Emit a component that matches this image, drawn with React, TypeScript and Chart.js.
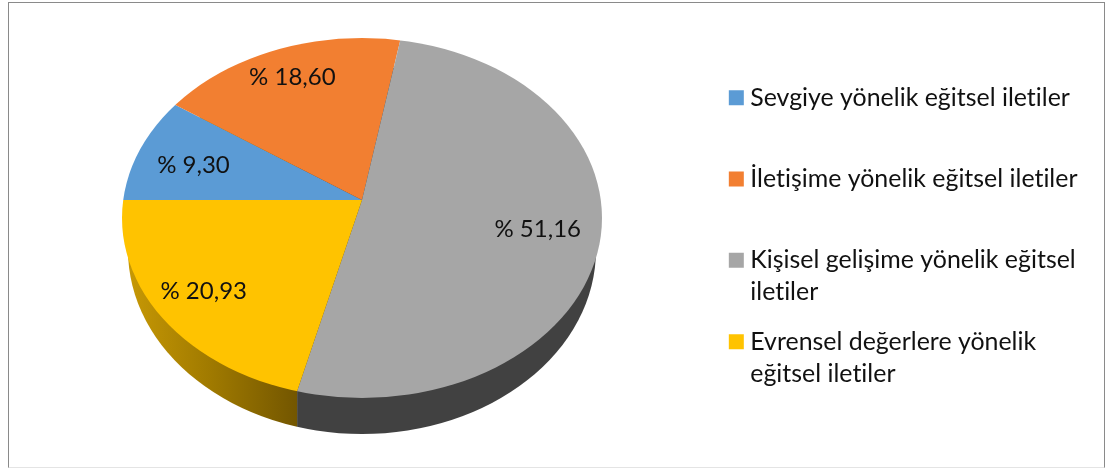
import React, { useEffect, useRef } from "react";
import { Chart, registerables } from "chart.js";

Chart.register(...registerables);

const categories: string[][] = [
  ["Sevgiye yönelik eğitsel iletiler", ""],
  ["İletişime yönelik eğitsel iletiler", ""],
  ["Kişisel gelişime yönelik eğitsel", "iletiler"],
  ["Evrensel değerlere yönelik", "eğitsel iletiler"],
];
const values = [9.3, 18.6, 51.16, 20.93];
const colors = ["#5B9BD5", "#F27F31", "#A6A6A6", "#FFC300"];
const FONT = "Lato, Carlito, 'Noto Sans', sans-serif";
const TEXT = "#111111";

// Perspective view of the disc
const apex = { x: 362, y: 200 };
const tilt = 0.77;
const rimTop = { x: 362, y: 218, rx: 240, ry: 180 };
const rimBottom = { x: 362, y: 250, rx: 234, ry: 184 };
const viewRadius = 300;
const labelReach = [176, 178, 180, 200];
const labelDrop = [4, 3, -1, -3];

function rimHit(a: number) {
  const dx = Math.cos(a);
  const dy = Math.sin(a) * tilt;
  const ox = apex.x - rimTop.x;
  const oy = apex.y - rimTop.y;
  const A = (dx * dx) / rimTop.rx ** 2 + (dy * dy) / rimTop.ry ** 2;
  const B = 2 * ((ox * dx) / rimTop.rx ** 2 + (oy * dy) / rimTop.ry ** 2);
  const C = (ox * ox) / rimTop.rx ** 2 + (oy * oy) / rimTop.ry ** 2 - 1;
  const t = (-B + Math.sqrt(B * B - 4 * A * C)) / (2 * A);
  return { x: apex.x + dx * t, y: apex.y + dy * t };
}

const discPlugin = {
  id: "disc",
  beforeDraw(chart: any) {
    // a non-zero spacing keeps Lato from joining "ti" into a ligature
    chart.ctx.letterSpacing = "0.01px";
  },
  beforeDatasetsDraw(chart: any) {
    const ctx = chart.ctx;
    const arcs = chart.getDatasetMeta(0).data;
    arcs.forEach((arc: any, i: number) => {
      const from = Math.max(arc.startAngle, 2 * Math.PI);
      const to = Math.min(arc.endAngle, 3 * Math.PI);
      if (from >= to) return;
      const p0 = rimHit(from);
      const p1 = rimHit(to);
      const xa = Math.min(p0.x, p1.x);
      const xb = Math.max(p0.x, p1.x);
      ctx.save();
      ctx.beginPath();
      ctx.rect(xa, 0, xb - xa, chart.height);
      ctx.clip();
      const g = ctx.createLinearGradient(xa, 0, xb, 0);
      if (i === 3) {
        g.addColorStop(0, "#C99A05");
        g.addColorStop(0.5, "#A07A00");
        g.addColorStop(1, "#735600");
      } else {
        g.addColorStop(0, "#414141");
        g.addColorStop(1, "#414141");
      }
      ctx.fillStyle = g;
      ctx.beginPath();
      ctx.ellipse(rimBottom.x, rimBottom.y, rimBottom.rx, rimBottom.ry, 0, 0, Math.PI * 2);
      ctx.fill();
      ctx.restore();
    });
    const a0 = arcs[0];
    const s = viewRadius / a0.outerRadius;
    ctx.save();
    ctx.beginPath();
    ctx.ellipse(rimTop.x, rimTop.y, rimTop.rx, rimTop.ry, 0, 0, Math.PI * 2);
    ctx.clip();
    ctx.translate(apex.x, apex.y);
    ctx.scale(s, s * tilt);
    ctx.translate(-a0.x, -a0.y);
  },
  afterDatasetsDraw(chart: any) {
    const ctx = chart.ctx;
    ctx.restore();
    const arcs = chart.getDatasetMeta(0).data;
    ctx.save();
    ctx.font = `24px ${FONT}`;
    ctx.fillStyle = TEXT;
    ctx.textAlign = "center";
    ctx.textBaseline = "middle";
    arcs.forEach((arc: any, i: number) => {
      const mid = (arc.startAngle + arc.endAngle) / 2;
      const x = apex.x + Math.cos(mid) * labelReach[i];
      const y = apex.y + Math.sin(mid) * labelReach[i] * tilt + labelDrop[i];
      ctx.fillText(`% ${values[i].toFixed(2).replace(".", ",")}`, x, y);
    });
    ctx.restore();
  },
};

export default function App() {
  const ref = useRef<HTMLCanvasElement>(null);
  useEffect(() => {
    const chart = new Chart(ref.current!, {
      type: "pie",
      data: {
        labels: categories as any,
        datasets: [
          {
            data: values,
            backgroundColor: colors,
            borderWidth: 0,
            clip: false,
          } as any,
        ],
      },
      options: {
        responsive: false,
        animation: false,
        events: [],
        rotation: 270,
        layout: { padding: { right: 17, top: 68, bottom: 0, left: 0 } },
        plugins: {
          tooltip: { enabled: false },
          title: { display: false },
          legend: {
            display: true,
            position: "right",
            align: "start",
            labels: {
              color: TEXT,
              boxWidth: 3,
              boxHeight: 3,
              padding: 17.3,
              font: { family: FONT, size: 24.9, lineHeight: 1.285 },
              generateLabels: () =>
                categories.map((text, i) => ({
                  text: text as any,
                  fillStyle: colors[i],
                  strokeStyle: colors[i],
                  lineWidth: 12,
                  lineJoin: "miter",
                  hidden: false,
                  index: i,
                  fontColor: TEXT,
                })),
            },
          },
        },
      } as any,
      plugins: [discPlugin],
    });
    return () => chart.destroy();
  }, []);
  return (
    <div style={{ position: "fixed", inset: 0, background: "#fff" }}>
      <div
        style={{
          position: "absolute",
          left: 8,
          top: 2,
          width: 1095,
          height: 464,
          borderLeft: "1px solid #8a8a8a",
          borderTop: "1px solid #8a8a8a",
          borderRight: "1px solid #8a8a8a",
          borderBottom: "1px solid #e4e4e4",
        }}
      />
      <canvas ref={ref} width={1105} height={468} style={{ position: "absolute", left: 0, top: 0, display: "block" }} />
    </div>
  );
}
